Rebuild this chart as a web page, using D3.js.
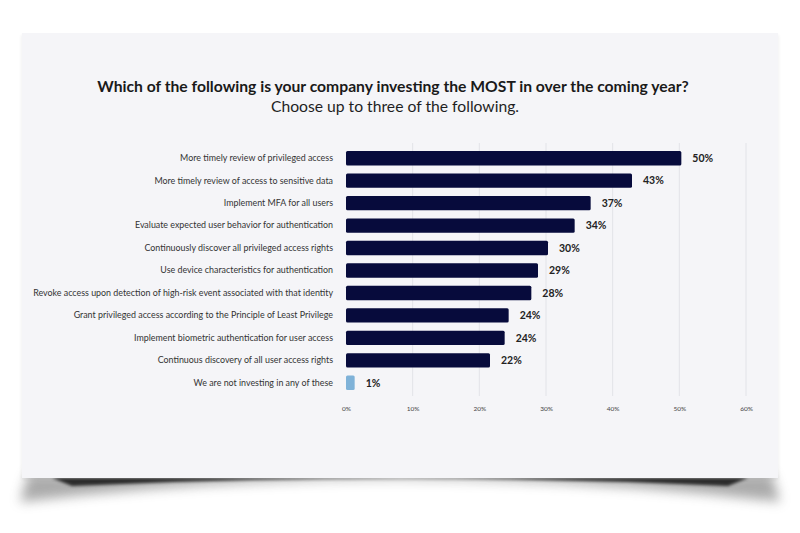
<!DOCTYPE html>
<html>
<head>
<meta charset="utf-8">
<script src="https://cdn.jsdelivr.net/npm/d3@7"></script>
<style>
  html, body { margin: 0; padding: 0; background: #ffffff; }
  svg { display: block; }
  text { font-family: Lato, "Open Sans", sans-serif; }
</style>
</head>
<body>
<svg id="chart" width="800" height="533"></svg>
<script>
const categories = [
  "More timely review of privileged access",
  "More timely review of access to sensitive data",
  "Implement MFA for all users",
  "Evaluate expected user behavior for authentication",
  "Continuously discover all privileged access rights",
  "Use device characteristics for authentication",
  "Revoke access upon detection of high-risk event associated with that identity",
  "Grant privileged access according to the Principle of Least Privilege",
  "Implement biometric authentication for user access",
  "Continuous discovery of all user access rights",
  "We are not investing in any of these"
];
const values = [50.3, 42.9, 36.7, 34.3, 30.3, 28.8, 27.8, 24.4, 23.8, 21.6, 1.3];
const valueLabels = ["50%", "43%", "37%", "34%", "30%", "29%", "28%", "24%", "24%", "22%", "1%"];
const tickValues = [0, 10, 20, 30, 40, 50, 60];
const tickLabels = ["0%", "10%", "20%", "30%", "40%", "50%", "60%"];
const titleText = "Which of the following is your company investing the MOST in over the coming year?";
const subtitleText = "Choose up to three of the following.";

const svg = d3.select("#chart");

const defs = svg.append("defs");
const f = defs.append("filter").attr("id", "blur").attr("x", "-20%").attr("y", "-200%").attr("width", "140%").attr("height", "500%");
f.append("feGaussianBlur").attr("stdDeviation", 6);
const f2 = defs.append("filter").attr("id", "blur2").attr("x", "-20%").attr("y", "-200%").attr("width", "140%").attr("height", "500%");
f2.append("feGaussianBlur").attr("stdDeviation", 1.5);

const card = {x: 22, y: 33, w: 756, h: 445};
const bottom = card.y + card.h;

// curved paper shadow below card (soft outer)
svg.append("path")
  .attr("d", `M${card.x + 6},${bottom - 4} L${card.x + card.w - 6},${bottom - 4}
              L${card.x + card.w + 2},${bottom + 24}
              Q${card.x + card.w / 2},${bottom - 22} ${card.x - 2},${bottom + 24} Z`)
  .attr("fill", "#666")
  .attr("opacity", 0.55)
  .attr("filter", "url(#blur)");
// darker inner crease
svg.append("path")
  .attr("d", `M${card.x + 30},${bottom} L${card.x + card.w - 30},${bottom}
              L${card.x + card.w - 50},${bottom + 8}
              Q${card.x + card.w / 2},${bottom - 7} ${card.x + 50},${bottom + 8} Z`)
  .attr("fill", "#000")
  .attr("opacity", 0.75)
  .attr("filter", "url(#blur2)");
// faint side shadow
svg.append("rect")
  .attr("x", card.x - 1).attr("y", card.y + 2).attr("width", card.w + 2).attr("height", card.h)
  .attr("fill", "#000").attr("opacity", 0.05).attr("filter", "url(#blur2)");

svg.append("rect")
  .attr("x", card.x).attr("y", card.y).attr("width", card.w).attr("height", card.h)
  .attr("fill", "#f5f5f8");

// title
svg.append("text")
  .attr("x", 393).attr("y", 92)
  .attr("text-anchor", "middle")
  .attr("font-size", 15.7).attr("font-weight", 700).attr("fill", "#1a1a1a")
  .text(titleText);
svg.append("text")
  .attr("x", 395).attr("y", 112)
  .attr("text-anchor", "middle")
  .attr("font-size", 15.7).attr("font-weight", 400).attr("fill", "#1f1f1f")
  .text(subtitleText);

// scales
const x = d3.scaleLinear().domain([0, 60]).range([346, 746]);
const y = d3.scaleBand().domain(categories).range([147, 394]).paddingInner(0.36).paddingOuter(0.18);

// gridlines
svg.append("g")
  .selectAll("line")
  .data(tickValues.filter(d => d > 0))
  .join("line")
  .attr("x1", d => x(d)).attr("x2", d => x(d))
  .attr("y1", 143).attr("y2", 396)
  .attr("stroke", "#e2e3e8").attr("stroke-width", 1);

// x axis
const xAxis = d3.axisBottom(x)
  .tickValues(tickValues)
  .tickFormat((d, i) => tickLabels[i])
  .tickSize(0).tickPadding(0);
const gx = svg.append("g").attr("transform", "translate(0,406)").call(xAxis);
gx.select(".domain").remove();
gx.selectAll("text")
  .attr("font-family", "Lato, sans-serif")
  .attr("font-size", 6.5).attr("fill", "#444");

// y axis labels
const yAxis = d3.axisLeft(y).tickSize(0).tickPadding(0);
const gy = svg.append("g").attr("transform", "translate(333,0)").call(yAxis);
gy.select(".domain").remove();
gy.selectAll("text")
  .attr("font-family", "Lato, sans-serif")
  .attr("font-size", 8.9).attr("fill", "#333");

// bars
svg.append("g")
  .selectAll("rect")
  .data(values)
  .join("rect")
  .attr("x", x(0))
  .attr("y", (d, i) => y(categories[i]))
  .attr("width", d => x(d) - x(0))
  .attr("height", y.bandwidth())
  .attr("rx", 1.5)
  .attr("fill", (d, i) => i === values.length - 1 ? "#7fb2d8" : "#070b3c");

// value labels
svg.append("g")
  .selectAll("text")
  .data(values)
  .join("text")
  .attr("x", d => x(d) + 11)
  .attr("y", (d, i) => y(categories[i]) + y.bandwidth() / 2)
  .attr("dy", "0.36em")
  .attr("font-size", 10.5).attr("font-weight", 700).attr("fill", "#222")
  .text((d, i) => valueLabels[i]);
</script>
</body>
</html>
